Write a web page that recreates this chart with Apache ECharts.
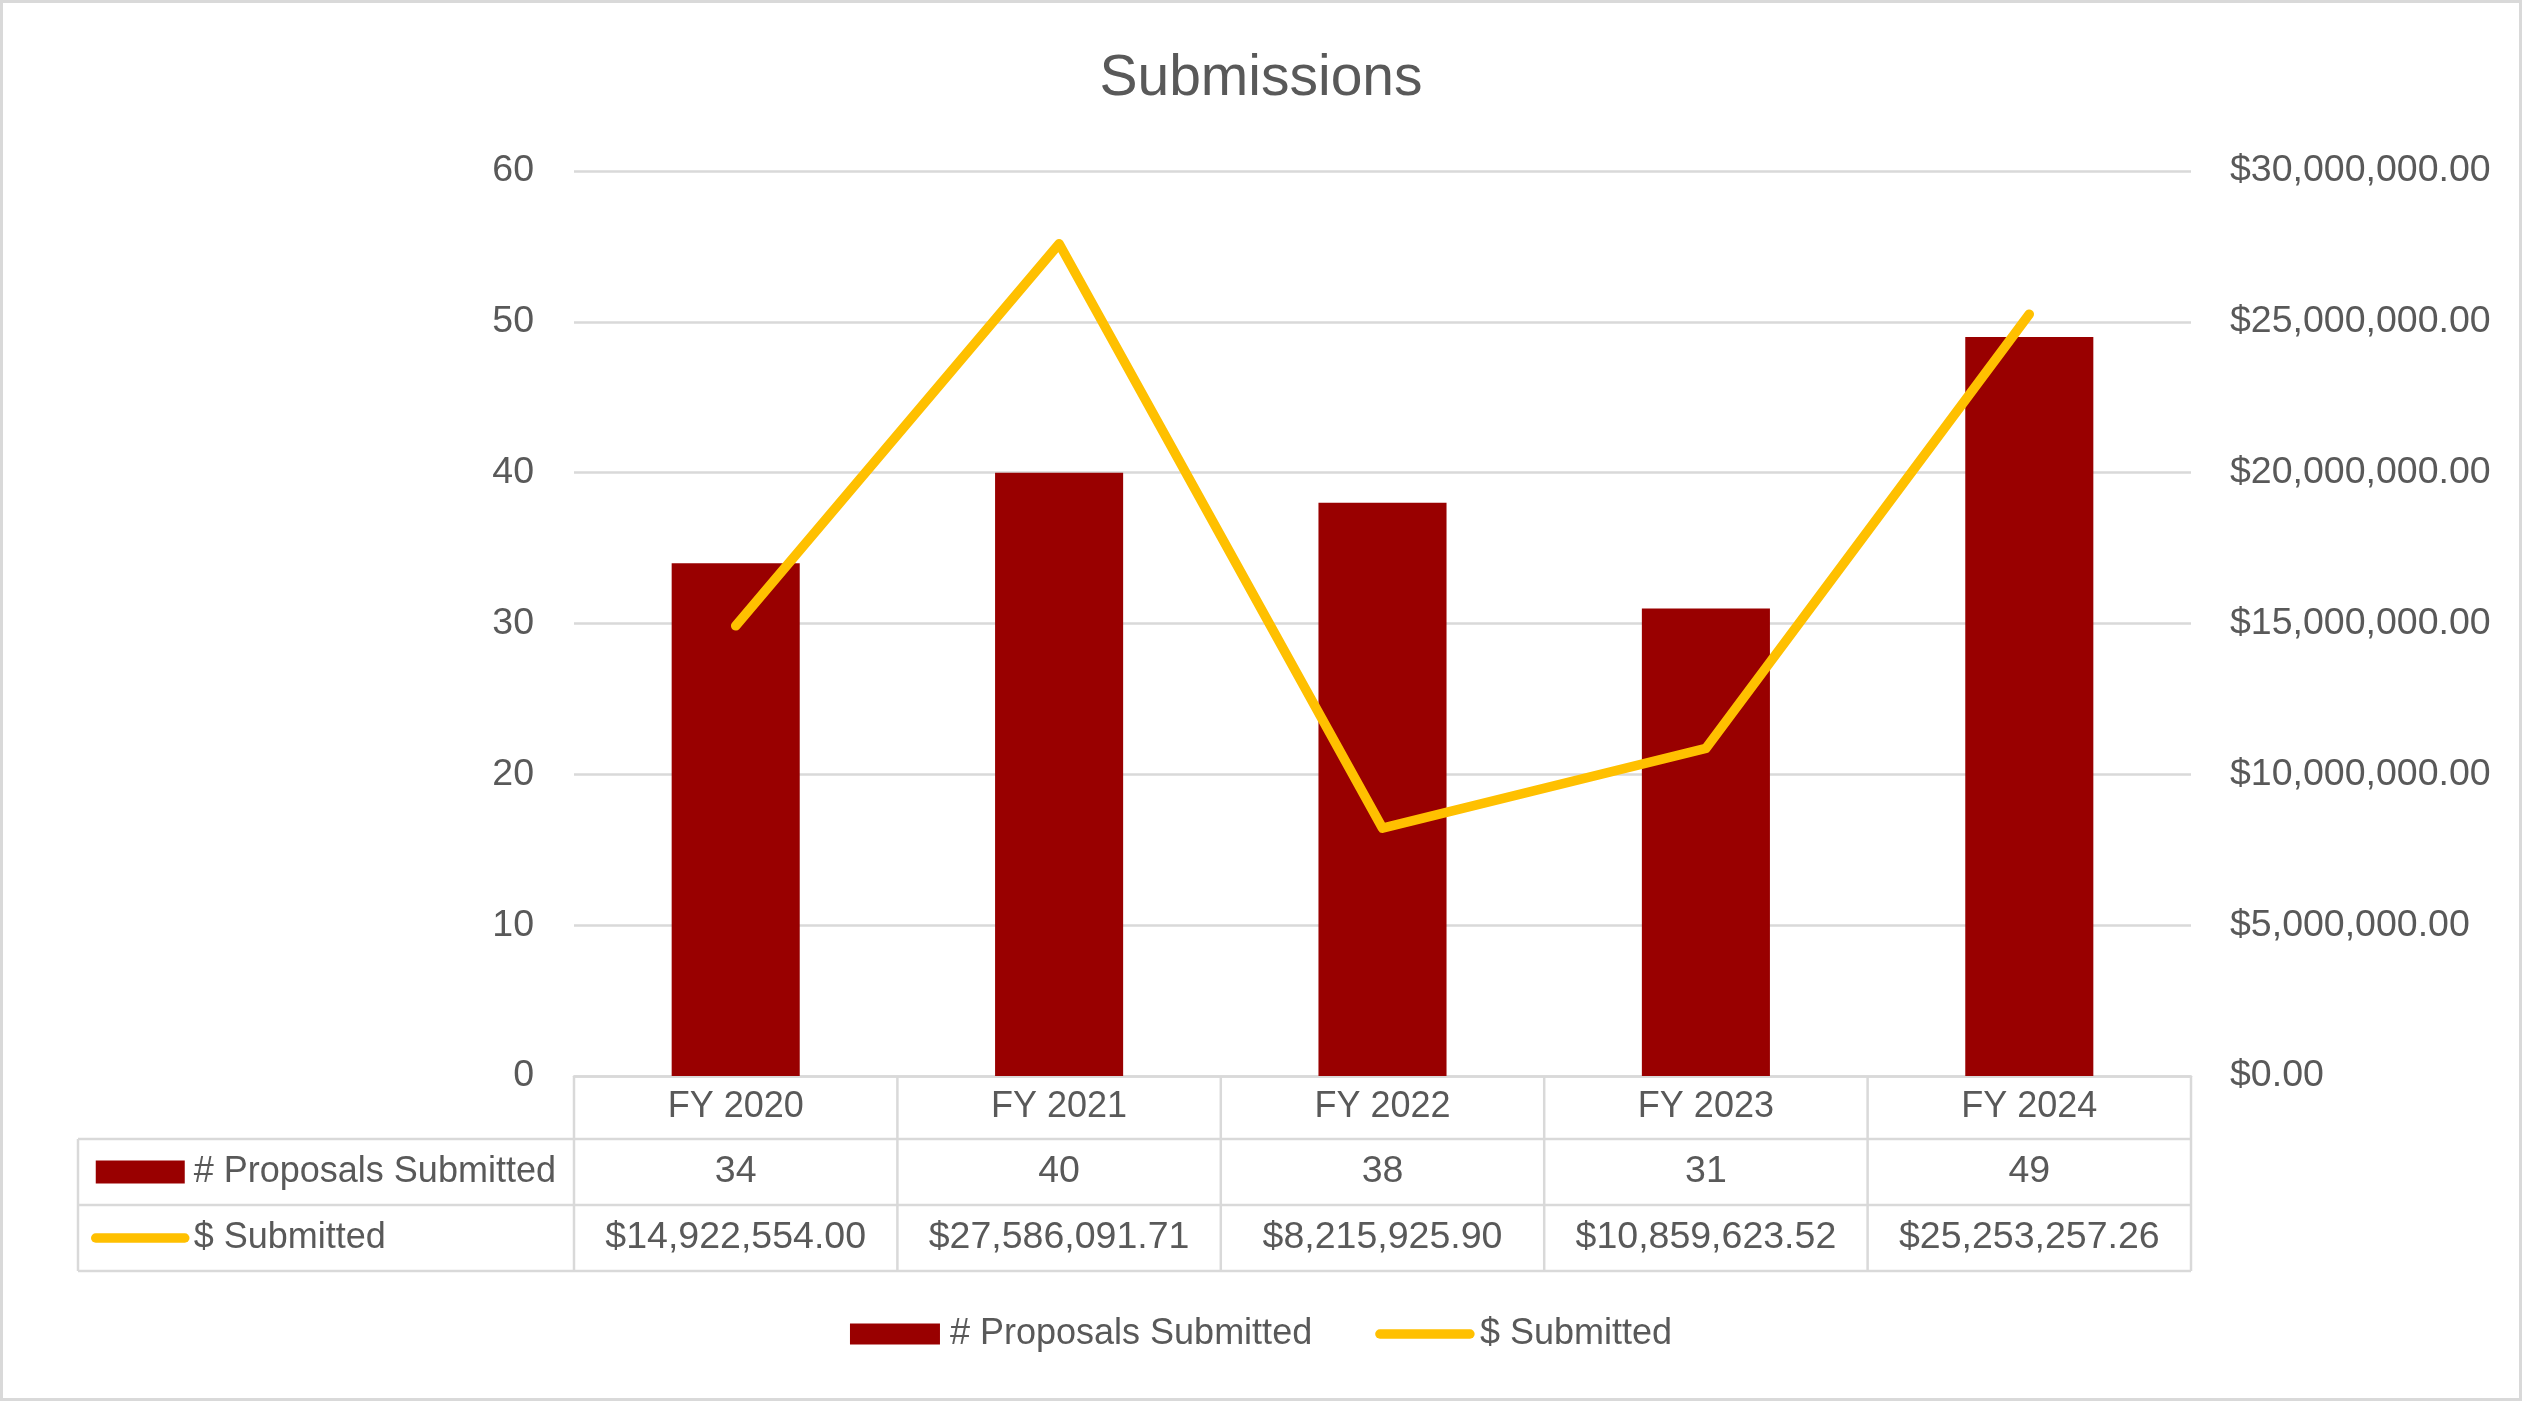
<!DOCTYPE html>
<html>
<head>
<meta charset="utf-8">
<script src="https://cdn.jsdelivr.net/npm/echarts@6/dist/echarts.min.js"></script>
<style>
html,body{margin:0;padding:0;background:#fff;}
#chart{width:2522px;height:1401px;}
</style>
</head>
<body>
<div id="chart"></div>
<script>
const categories = ['FY 2020', 'FY 2021', 'FY 2022', 'FY 2023', 'FY 2024'];
const proposals = [34, 40, 38, 31, 49];
const dollars = [14922554.00, 27586091.71, 8215925.90, 10859623.52, 25253257.26];
const countAxis = { min: 0, max: 60, interval: 10 };
const dollarAxis = { min: 0, max: 30000000, interval: 5000000 };
const seriesNames = ['# Proposals Submitted', '$ Submitted'];

const TXT = '#595959';
const GRID = '#D9D9D9';
const FONT = '"Liberation Sans", Arial, sans-serif';
const FS = 36;
const FSN = 37.5;

function money(v) {
  return '$' + Number(v).toLocaleString('en-US', { minimumFractionDigits: 2, maximumFractionDigits: 2 });
}

const chart = echarts.init(document.getElementById('chart'));
const lbl = { color: TXT, fontSize: FS, fontFamily: FONT, lineHeight: FS };
const nlbl = { color: TXT, fontSize: FSN, fontFamily: FONT, lineHeight: FS };
const legendData = [
  { name: seriesNames[0], icon: 'rect' },
  { name: seriesNames[1], lineStyle: { width: 9.5, cap: 'round' }, itemStyle: { opacity: 0 } }
];

chart.setOption({
  animation: false,
  backgroundColor: '#fff',
  textStyle: { fontFamily: FONT },
  title: {
    text: 'Submissions', left: 'center', top: 46,
    textStyle: { color: TXT, fontSize: 57, fontWeight: 'normal', fontFamily: FONT }
  },
  grid: { left: 574, right: 331, top: 171, bottom: 325, containLabel: false },
  legend: [
    {
      data: legendData,
      left: 'center', top: 1311, itemWidth: 90, itemHeight: 21, itemGap: 63,
      textStyle: Object.assign({ padding: [0, 0, 0, 5] }, lbl)
    },
    {
      data: legendData,
      orient: 'vertical', left: 86, top: 1149, itemWidth: 89, itemHeight: 23, itemGap: 30,
      textStyle: Object.assign({ padding: [0, 0, 0, 4] }, lbl)
    }
  ],
  xAxis: [
    {
      type: 'category', data: categories, position: 'bottom',
      axisLine: { show: true, lineStyle: { color: GRID, width: 2.5 } },
      axisTick: { show: false },
      axisLabel: Object.assign({ margin: 13, interval: 0, hideOverlap: false }, lbl)
    },
    {
      type: 'category', data: categories, position: 'bottom', offset: 66,
      axisLine: { show: false }, axisTick: { show: false },
      axisLabel: Object.assign({ margin: 12, interval: 0, hideOverlap: false, formatter: (v, i) => String(proposals[i]) }, nlbl)
    },
    {
      type: 'category', data: categories, position: 'bottom', offset: 132,
      axisLine: { show: false }, axisTick: { show: false },
      axisLabel: Object.assign({ margin: 12, interval: 0, hideOverlap: false, formatter: (v, i) => money(dollars[i]) }, nlbl)
    }
  ],
  yAxis: [
    {
      type: 'value', position: 'left', min: countAxis.min, max: countAxis.max, interval: countAxis.interval,
      axisLine: { show: false }, axisTick: { show: false },
      splitLine: { show: true, lineStyle: { color: GRID, width: 2.5 } },
      axisLabel: Object.assign({ margin: 40 }, nlbl)
    },
    {
      type: 'value', position: 'right', min: dollarAxis.min, max: dollarAxis.max, interval: dollarAxis.interval,
      axisLine: { show: false }, axisTick: { show: false },
      splitLine: { show: false },
      axisLabel: Object.assign({ margin: 39, formatter: v => money(v) }, nlbl)
    }
  ],
  series: [
    {
      name: seriesNames[0], type: 'bar', data: proposals, xAxisIndex: 0, yAxisIndex: 0,
      barWidth: '39.6%', itemStyle: { color: '#990000' }
    },
    {
      name: seriesNames[1], type: 'line', data: dollars, xAxisIndex: 0, yAxisIndex: 1,
      symbol: 'none', showSymbol: false, z: 5,
      lineStyle: { color: '#FFC000', width: 9.5, cap: 'round', join: 'round' },
      itemStyle: { color: '#FFC000' }
    }
  ]
});

// Data table grid lines, positioned from the library's own scales
function drawTable() {
  const xs = categories.map(c => chart.convertToPixel({ xAxisIndex: 0 }, c));
  const band = xs[1] - xs[0];
  const bounds = [xs[0] - band / 2].concat(xs.map(x => x + band / 2));
  const yZero = chart.convertToPixel({ yAxisIndex: 0 }, 0);
  const r1 = yZero + 63, r2 = r1 + 66, r3 = r2 + 66;
  const tableLeft = 78;
  const xEnd = bounds[bounds.length - 1];
  const st = { stroke: GRID, lineWidth: 2.5 };
  const g = [];
  [r1, r2, r3].forEach(y => g.push({ type: 'line', shape: { x1: tableLeft, y1: y, x2: xEnd, y2: y }, style: st, silent: true }));
  bounds.forEach(x => g.push({ type: 'line', shape: { x1: x, y1: yZero, x2: x, y2: r3 }, style: st, silent: true }));
  g.push({ type: 'line', shape: { x1: tableLeft, y1: r1, x2: tableLeft, y2: r3 }, style: st, silent: true });
  g.push({ type: 'rect', shape: { x: 1.5, y: 1.5, width: 2519, height: 1398 }, style: { stroke: GRID, lineWidth: 3, fill: null }, silent: true });
  chart.setOption({ graphic: g });
}
drawTable();
</script>
</body>
</html>
